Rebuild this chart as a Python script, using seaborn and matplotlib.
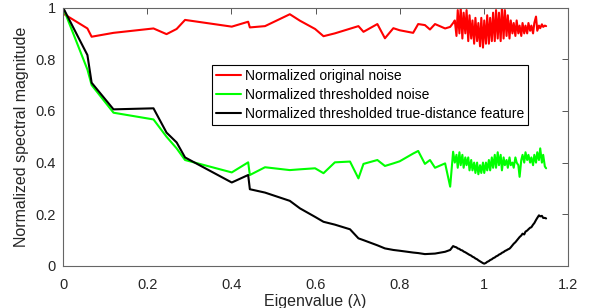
import matplotlib
matplotlib.use("Agg")
import matplotlib.pyplot as plt
import seaborn as sns
import numpy as np
import pandas as pd

# eigenvalues shared by all three curves
eigenvalues = [
    0, 0.058, 0.068, 0.12, 0.215, 0.246, 0.27, 0.29, 0.401, 0.44, 0.444, 0.48,
    0.539, 0.563, 0.599, 0.619, 0.646, 0.682, 0.702, 0.714, 0.747, 0.765, 0.785,
    0.80, 0.832, 0.844, 0.86, 0.872, 0.884, 0.908, 0.92, 0.927,
    0.931, 0.935, 0.938, 0.942, 0.945, 0.949, 0.952, 0.956, 0.959, 0.963, 0.966,
    0.970, 0.973, 0.977, 0.980, 0.984, 0.987, 0.991, 0.994, 0.998, 1.001, 1.005,
    1.008, 1.012, 1.015, 1.019, 1.022, 1.026, 1.029, 1.033, 1.036, 1.040, 1.043,
    1.047, 1.050, 1.054, 1.057, 1.061, 1.064, 1.068, 1.071, 1.075, 1.078, 1.082,
    1.085, 1.089, 1.092, 1.096, 1.099, 1.103, 1.106, 1.110, 1.113, 1.117, 1.120,
    1.124, 1.127, 1.131, 1.134, 1.138, 1.141, 1.145, 1.148,
]

original_noise = [
    0.977, 0.919, 0.887, 0.902, 0.919, 0.897, 0.917, 0.952, 0.926, 0.945, 0.923, 0.928,
    0.974, 0.949, 0.917, 0.889, 0.90, 0.918, 0.928, 0.906, 0.936, 0.881, 0.92,
    0.912, 0.902, 0.936, 0.932, 0.915, 0.936, 0.919, 0.925, 0.94,
    0.95, 0.89, 0.99, 0.90, 1.00, 0.88, 0.98, 0.90, 0.99, 0.87, 0.97,
    0.88, 0.95, 0.86, 0.96, 0.87, 0.94, 0.85, 0.96, 0.845, 0.95, 0.86,
    0.97, 0.86, 0.96, 0.87, 0.98, 0.87, 0.99, 0.88, 0.98, 0.87, 1.00,
    0.88, 0.99, 0.89, 0.97, 0.88, 0.95, 0.90, 0.94, 0.89, 0.95, 0.90,
    0.93, 0.89, 0.94, 0.90, 0.93, 0.90, 0.94, 0.91, 0.93, 0.90, 0.94,
    0.965, 0.91, 0.93, 0.92, 0.935, 0.925, 0.93, 0.928,
]

thresholded_noise = [
    1.0, 0.76, 0.70, 0.593, 0.567, 0.50, 0.455, 0.41, 0.362, 0.401, 0.352, 0.382,
    0.371, 0.374, 0.378, 0.359, 0.401, 0.404, 0.339, 0.395, 0.41, 0.387, 0.397,
    0.405, 0.435, 0.445, 0.395, 0.41, 0.38, 0.397, 0.307, 0.442,
    0.40, 0.43, 0.38, 0.44, 0.39, 0.43, 0.38, 0.42, 0.39, 0.42, 0.37,
    0.41, 0.37, 0.40, 0.36, 0.40, 0.355, 0.39, 0.36, 0.40, 0.36, 0.40,
    0.37, 0.41, 0.37, 0.42, 0.38, 0.43, 0.38, 0.44, 0.39, 0.43, 0.37,
    0.42, 0.39, 0.41, 0.38, 0.42, 0.39, 0.40, 0.38, 0.42, 0.40, 0.39,
    0.345, 0.41, 0.43, 0.40, 0.44, 0.41, 0.43, 0.40, 0.42, 0.39, 0.43,
    0.40, 0.44, 0.41, 0.455, 0.40, 0.43, 0.385, 0.378,
]

true_distance = [
    1.0, 0.816, 0.709, 0.606, 0.61, 0.516, 0.478, 0.42, 0.323, 0.352, 0.297, 0.284,
    0.252, 0.223, 0.19, 0.171, 0.16, 0.142, 0.107, 0.10, 0.08, 0.068, 0.062,
    0.059, 0.052, 0.05, 0.046, 0.047, 0.048, 0.055, 0.062, 0.077,
    0.074, 0.072, 0.068, 0.066, 0.062, 0.060, 0.056, 0.053, 0.050, 0.046, 0.043,
    0.040, 0.036, 0.033, 0.029, 0.026, 0.022, 0.018, 0.015, 0.011, 0.009, 0.012,
    0.016, 0.019, 0.023, 0.026, 0.030, 0.033, 0.037, 0.040, 0.044, 0.047, 0.051,
    0.054, 0.058, 0.061, 0.064, 0.067, 0.072, 0.080, 0.086, 0.092, 0.098, 0.106,
    0.112, 0.118, 0.125, 0.122, 0.133, 0.137, 0.142, 0.148, 0.150, 0.160, 0.166,
    0.178, 0.186, 0.196, 0.192, 0.194, 0.186, 0.186, 0.184,
]

labels = [
    "Normalized original noise",
    "Normalized thresholded noise",
    "Normalized thresholded true-distance feature",
]
colors = ["#ff0000", "#00ff00", "#000000"]

sns.set_theme(style="white")
plt.rcParams['font.family'] = ['Liberation Sans', 'DejaVu Sans']

df = pd.concat([
    pd.DataFrame({"x": eigenvalues, "y": vals, "series": lab})
    for vals, lab in zip([original_noise, thresholded_noise, true_distance], labels)
])

fig = plt.figure(figsize=(5.9, 3.08), dpi=100)
ax = fig.add_axes([0.1068, 0.1364, 0.8559, 0.8392])
sns.lineplot(data=df, x="x", y="y", hue="series", palette=colors,
             estimator=None, sort=False, linewidth=1.5, ax=ax)

ax.set_xlim(0, 1.2)
ax.set_ylim(0, 1)
ax.set_xticks(np.arange(0, 1.21, 0.2))
ax.set_yticks(np.arange(0, 1.01, 0.2))
ax.set_xticklabels([f"{v:g}" for v in np.round(np.arange(0, 1.21, 0.2), 1)])
ax.set_yticklabels([f"{v:g}" for v in np.round(np.arange(0, 1.01, 0.2), 1)])
ax.tick_params(direction="in", top=True, right=True, length=4, width=0.7,
               color="#555555", labelcolor="#262626", labelsize=10.5)
ax.tick_params(axis="x", pad=9)
ax.tick_params(axis="y", pad=5)
for s in ax.spines.values():
    s.set_color("#666666")
    s.set_linewidth(0.8)

ax.set_xlabel("Eigenvalue (λ)", fontsize=11.5, color="#262626", labelpad=1)
ax.set_ylabel("Normalized spectral magnitude", fontsize=11.5, color="#262626", labelpad=5)

leg = ax.legend(loc="upper right", bbox_to_anchor=(0.921, 0.778), fontsize=10,
                frameon=True, fancybox=False, framealpha=1, edgecolor="#000000",
                handlelength=1.8, handletextpad=0.25, borderpad=0.3,
                labelspacing=0.35, borderaxespad=0)
leg.get_frame().set_linewidth(0.8)
for t in leg.get_texts():
    t.set_color("#000000")

fig.savefig("out.png", dpi=100)
